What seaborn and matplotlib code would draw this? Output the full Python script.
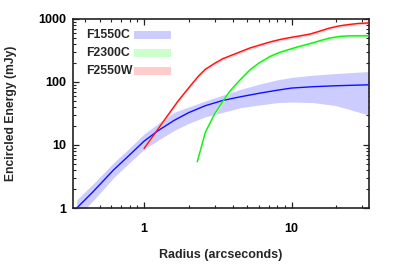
import numpy as np
import pandas as pd
import matplotlib
matplotlib.use("Agg")
import matplotlib.pyplot as plt
import matplotlib.ticker as ticker
from matplotlib.patches import Rectangle
import seaborn as sns

sns.set_theme(style="ticks")
plt.rcParams['font.family'] = ['Liberation Sans', 'DejaVu Sans']
plt.rcParams['font.weight'] = 'bold'

# F1550C encircled energy with uncertainty band
r_1550 = [0.35, 0.45, 0.62, 0.8, 1.0, 1.25, 1.6, 2.0, 2.6, 3.43, 4.47, 6.0, 8.0, 10.0, 14.0, 20.0, 33.0]
ee_1550 = [1.0, 1.8, 4.0, 7.0, 11.5, 17, 24.6, 32.5, 42, 51, 58, 66, 74, 80, 84, 87, 90]
lo_1550 = [0.7, 1.3, 3.0, 5.3, 8.5, 12, 17, 22, 28, 33, 39, 43, 47, 48, 47, 42, 30]
hi_1550 = [1.35, 2.4, 5.2, 9.0, 15, 22, 33, 40, 50, 62, 76, 92, 108, 118, 128, 136, 146]

# F2300C
r_2300 = [2.29, 2.6, 3.0, 3.43, 3.82, 4.47, 5.2, 6.0, 7.1, 8.3, 9.7, 11.0, 13.3, 16.0, 18.0, 21.0, 24.0, 33.0]
ee_2300 = [5.4, 16, 31, 50, 72, 108, 155, 200, 252, 295, 330, 360, 405, 460, 495, 525, 537, 540]

# F2550W
r_2550 = [1.0, 1.1, 1.19, 1.39, 1.7, 2.05, 2.32, 2.59, 3.03, 3.43, 4.47, 5.2, 7.1, 8.3, 9.7, 11.0,
          13.3, 15.0, 18.0, 21.0, 24.0, 28.0, 33.0]
ee_2550 = [8.8, 12, 15.5, 26, 50, 86, 122, 158, 200, 235, 300, 345, 430, 470, 505, 530,
           575, 625, 715, 775, 810, 845, 860]

labels = ['F1550C', 'F2300C', 'F2550W']
line_colors = ['#1010ff', '#10ee10', '#ff1010']
band_colors = ['#ccccff', '#ccffcc', '#ffcccc']

fig = plt.figure(figsize=(3.99, 2.66), dpi=100)
ax = fig.add_axes([0.183, 0.218, 0.742, 0.711])

# bands
ax.fill_between(r_1550, lo_1550, hi_1550, color=band_colors[0], lw=0, zorder=1)
ax.fill_between(r_2300, np.array(ee_2300) * 0.94, np.array(ee_2300) * 1.06,
                color=band_colors[1], lw=0, zorder=1)
ax.fill_between(r_2550, np.array(ee_2550) * 0.95, np.array(ee_2550) * 1.05,
                color=band_colors[2], lw=0, zorder=1)

df = pd.concat([
    pd.DataFrame({'r': r_1550, 'ee': ee_1550, 'filt': labels[0]}),
    pd.DataFrame({'r': r_2300, 'ee': ee_2300, 'filt': labels[1]}),
    pd.DataFrame({'r': r_2550, 'ee': ee_2550, 'filt': labels[2]}),
])
sns.lineplot(data=df, x='r', y='ee', hue='filt', palette=line_colors,
             linewidth=1.0, legend=False, ax=ax, zorder=3, sort=False)

ax.set_xscale('log')
ax.set_yscale('log')
ax.set_xlim(0.33, 33.4)
ax.set_ylim(1, 1000)

ax.xaxis.set_major_formatter(ticker.FuncFormatter(lambda v, _: f'{v:g}'))
ax.yaxis.set_major_formatter(ticker.FuncFormatter(lambda v, _: f'{v:g}'))
ax.xaxis.set_minor_formatter(ticker.NullFormatter())
ax.tick_params(which='both', direction='in', top=True, right=True, colors='#222222',
               labelcolor='black', labelsize=9)
ax.tick_params(which='major', length=4, width=0.9)
ax.tick_params(which='minor', length=2.3, width=0.8)
ax.tick_params(axis='x', which='major', pad=11)
ax.tick_params(axis='y', which='major', pad=5)
for s in ax.spines.values():
    s.set_linewidth(1.2)
    s.set_color('#222222')

ax.set_xlabel('Radius (arcseconds)', fontsize=9, fontweight='bold')
ax.set_ylabel('Encircled Energy (mJy)', fontsize=8.7, fontweight='bold')
ax.xaxis.set_label_coords(0.5, -0.215)
ax.yaxis.set_label_coords(-0.19, 0.5)

# gnuplot style key: label on the left, colour swatch on the right
for i, (lab, c) in enumerate(zip(labels, band_colors)):
    yc = 1 - (35 + 18 * i) / 266
    fig.text(86 / 399, yc, lab, fontsize=8.8, fontweight='bold', ha='left', va='center')
    fig.add_artist(Rectangle((134 / 399, yc - 4 / 266), 37 / 399, 8 / 266,
                             transform=fig.transFigure, facecolor=c, edgecolor='none'))

fig.savefig('out.png', dpi=100)
